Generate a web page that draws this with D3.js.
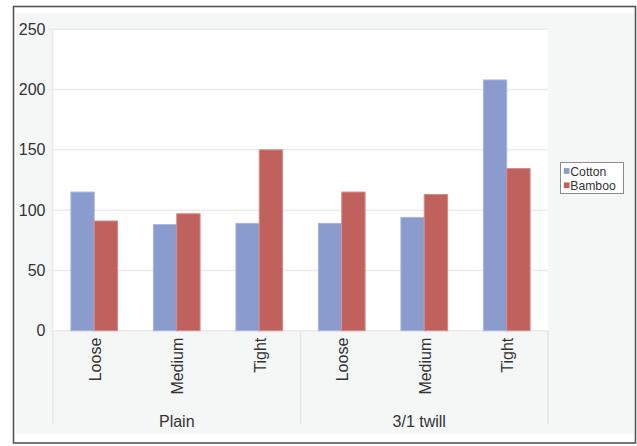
<!DOCTYPE html>
<html>
<head>
<meta charset="utf-8">
<script src="https://cdn.jsdelivr.net/npm/d3@7"></script>
<style>
  html, body { margin: 0; padding: 0; background: #fff; }
  svg { display: block; font-family: "Liberation Sans", Arial, sans-serif; }
</style>
</head>
<body>
<svg id="chart" width="637" height="446"></svg>
<script>
const groups = ["Plain", "3/1 twill"];
const categories = ["Loose", "Medium", "Tight"];
const series = ["Cotton", "Bamboo"];
const cottonValues = [115, 88, 89, 89, 94, 208];
const bambooValues = [91, 97, 150, 115, 113, 134.5];
const yTicks = [0, 50, 100, 150, 200, 250];
const colors = ["#8a9bcd", "#c0615d"];
const strokes = ["#a9b6de", "#d48b86"];

const svg = d3.select("#chart");
const plot = { left: 53, right: 548, top: 29.3, bottom: 330.7 };
const axisBottom = 424;

// outer frame
svg.append("rect").attr("x", 13.5).attr("y", 6.5).attr("width", 622).attr("height", 436.5)
  .attr("fill", "#fff").attr("stroke", "#555").attr("stroke-width", 1.6);
// light background panel
svg.append("rect").attr("x", 16).attr("y", 13).attr("width", 618).attr("height", 421)
  .attr("fill", "#f5f6f6");
// plot area
svg.append("rect").attr("x", plot.left).attr("y", plot.top)
  .attr("width", plot.right - plot.left).attr("height", plot.bottom - plot.top)
  .attr("fill", "#fff");

const keys = [];
groups.forEach(g => categories.forEach(c => keys.push(g + "|" + c)));
const data = keys.map((k, i) => ({ key: k, group: k.split("|")[0], cat: k.split("|")[1],
  values: [cottonValues[i], bambooValues[i]] }));

const x0 = d3.scaleBand().domain(keys).range([plot.left, plot.right]).padding(0);
const bw = x0.bandwidth();
const barW = bw * 0.283;
const x1 = d3.scaleBand().domain(series).range([bw / 2 - barW, bw / 2 + barW]).padding(0);
const y = d3.scaleLinear().domain([0, 250]).range([plot.bottom, plot.top]);

// grid lines
svg.append("g").selectAll("line").data(yTicks).join("line")
  .attr("x1", plot.left - 4).attr("x2", plot.right)
  .attr("y1", d => y(d)).attr("y2", d => y(d))
  .attr("stroke", "#ebebeb").attr("stroke-width", 1.5);
// left axis line
svg.append("line").attr("x1", plot.left - 0.5).attr("x2", plot.left - 0.5)
  .attr("y1", plot.top).attr("y2", plot.bottom).attr("stroke", "#ebebeb").attr("stroke-width", 1.5);

// y axis labels
const yAxis = d3.axisLeft(y).tickValues(yTicks).tickSize(0).tickPadding(0);
const ya = svg.append("g").attr("transform", `translate(45.5,0)`).call(yAxis);
ya.select(".domain").remove();
ya.selectAll("text").attr("font-size", 16).attr("fill", "#333")
  .attr("font-family", "Liberation Sans, Arial, sans-serif");

// bars
const cg = svg.append("g").selectAll("g").data(data).join("g")
  .attr("transform", d => `translate(${x0(d.key)},0)`);
cg.selectAll("rect").data(d => d.values.map((v, i) => ({ s: series[i], v, i }))).join("rect")
  .attr("x", d => x1(d.s)).attr("width", x1.bandwidth())
  .attr("y", d => y(d.v)).attr("height", d => y(0) - y(d.v))
  .attr("fill", d => colors[d.i]).attr("stroke", d => strokes[d.i]).attr("stroke-width", 1);

// category separators
const seps = [plot.left, x0(keys[3]), plot.right];
svg.append("g").selectAll("line").data(seps).join("line")
  .attr("x1", d => d).attr("x2", d => d)
  .attr("y1", plot.bottom).attr("y2", axisBottom)
  .attr("stroke", "#e6e6e6").attr("stroke-width", 1.5);

// category labels
svg.append("g").selectAll("text").data(data).join("text")
  .attr("transform", d => `translate(${x0(d.key) + bw / 2 + 1},${plot.bottom + 7}) rotate(-90)`)
  .attr("text-anchor", "end").attr("dy", "0.35em")
  .attr("font-size", 16).attr("fill", "#333")
  .text(d => d.cat);

// group labels
svg.append("g").selectAll("text").data(groups).join("text")
  .attr("x", (g, i) => (x0(keys[i * 3]) + x0(keys[i * 3 + 2]) + bw) / 2 - (i === 1 ? 5 : 0))
  .attr("y", 426.5).attr("text-anchor", "middle")
  .attr("font-size", 16).attr("fill", "#333")
  .text(d => d);

// legend
const lg = svg.append("g").attr("transform", "translate(560.5,162.5)");
lg.append("rect").attr("x", 0).attr("y", 0).attr("width", 63).attr("height", 31)
  .attr("fill", "#fff").attr("stroke", "#8c8c8c").attr("stroke-width", 1);
const li = lg.selectAll("g").data(series).join("g")
  .attr("transform", (d, i) => `translate(3.3,${5.3 + i * 14.3})`);
li.append("rect").attr("x", 0).attr("y", 0.3).attr("width", 5.7).attr("height", 5.7)
  .attr("fill", (d, i) => colors[i]);
li.append("text").attr("x", 6.5).attr("y", 7.8).attr("font-size", 12.2).attr("fill", "#333")
  .text(d => d);
</script>
</body>
</html>
